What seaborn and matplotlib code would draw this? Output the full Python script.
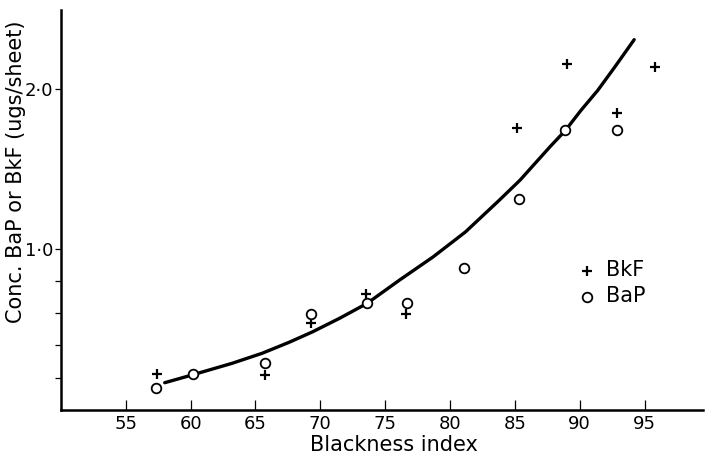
import matplotlib
matplotlib.use("Agg")
import matplotlib.pyplot as plt
import seaborn as sns
import pandas as pd

# Data
bkf_x = [57.4, 65.7, 69.3, 73.5, 76.6, 85.2, 89.0, 92.9, 95.8]
bkf_y = [0.22, 0.216, 0.538, 0.72, 0.594, 1.753, 2.155, 1.85, 2.135]
bap_x = [57.35, 60.2, 65.7, 69.3, 73.6, 76.65, 81.1, 85.35, 88.9, 92.9]
bap_y = [0.133, 0.22, 0.293, 0.594, 0.662, 0.666, 0.88, 1.315, 1.74, 1.745]
curve_x = [58.0, 60.1, 63.2, 65.5, 67.6, 69.4, 71.5, 73.6, 76.1, 78.7, 81.2,
           83.8, 85.4, 87.7, 88.9, 90.1, 91.4, 92.7, 94.2]
curve_y = [0.168, 0.216, 0.289, 0.351, 0.42, 0.485, 0.57, 0.662, 0.807, 0.952,
           1.108, 1.305, 1.43, 1.637, 1.74, 1.865, 1.99, 2.134, 2.305]
xticks = [55, 60, 65, 70, 75, 80, 85, 90, 95]
yticks = [0.2, 0.4, 0.6, 0.8, 1.0, 2.0]
ytick_labels = ["", "", "", "", "1·0", "2·0"]

sns.set_style("white")
plt.rcParams['font.family'] = ['DejaVu Sans']
plt.rcParams['text.color'] = 'black'
plt.rcParams['axes.labelcolor'] = 'black'

fig = plt.figure(figsize=(7.05, 4.58), dpi=100)
ax = fig.add_axes([0.0865, 0.1055, 0.9105, 0.8727])

curve = pd.DataFrame({"x": curve_x, "y": curve_y})
bkf = pd.DataFrame({"x": bkf_x, "y": bkf_y})
bap = pd.DataFrame({"x": bap_x, "y": bap_y})

sns.lineplot(data=curve, x="x", y="y", ax=ax, color="black", linewidth=2.4,
             sort=False, estimator=None, zorder=2)
sns.scatterplot(data=bkf, x="x", y="y", ax=ax, marker="+", color="black",
                s=45, linewidth=1.6, zorder=3, label="BkF")
sns.scatterplot(data=bap, x="x", y="y", ax=ax, marker="o", facecolor="white",
                edgecolor="black", s=48, linewidth=1.3, zorder=4, label="BaP")

ax.set_xlim(50, 99.5)
ax.set_ylim(0, 2.49)
ax.set_xticks(xticks)
ax.set_xticklabels([str(t) for t in xticks])
ax.set_yticks(yticks)
ax.set_yticklabels(ytick_labels)

for s in ["top", "right"]:
    ax.spines[s].set_visible(False)
for s in ["left", "bottom"]:
    ax.spines[s].set_linewidth(1.8)
    ax.spines[s].set_color("black")

ax.tick_params(axis="x", bottom=True, direction="in", length=7, width=0.9, pad=4,
               labelsize=13, colors="black")
ax.tick_params(axis="y", left=True, direction="out", length=4.5, width=0.9, pad=1,
               labelsize=13, colors="black")

ax.set_xlabel("Blackness index", fontsize=15)
ax.set_ylabel("Conc. BaP or BkF (ugs/sheet)", fontsize=15)
ax.xaxis.set_label_coords((394 - 61) / 642, -(445 - 409.7) / 399.7)
ax.yaxis.set_label_coords(-(61 - 16) / 642, (409.7 - 172) / 399.7)
ax.xaxis.label.set_va("center")
ax.yaxis.label.set_va("center")

leg = ax.legend(loc="upper left", bbox_to_anchor=(0.79, 0.395), frameon=False,
                fontsize=15, handletextpad=0.4, labelspacing=0.3,
                borderaxespad=0, handlelength=1.0)

fig.savefig("out.png", dpi=100)
